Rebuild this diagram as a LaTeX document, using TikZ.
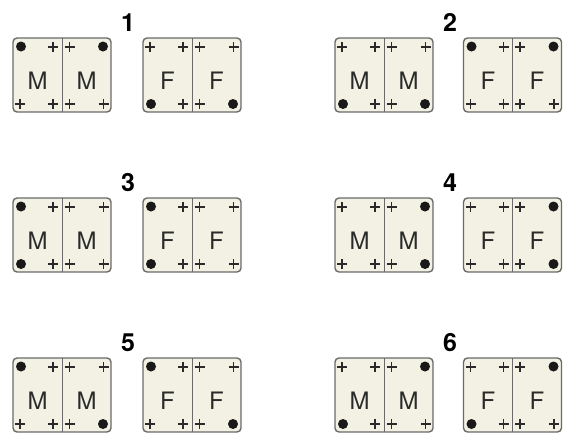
\documentclass[tikz,border=0pt]{standalone}
\usepackage{fontspec}
\setmainfont{TeX Gyre Heros}
\definecolor{cardfill}{HTML}{F3F1E3}
\definecolor{cardedge}{HTML}{6A6A6A}
\definecolor{ink}{HTML}{2A2A2A}
\tikzset{
  cardbox/.style={draw=cardedge, fill=cardfill, line width=1.4pt, rounded corners=4pt},
  divider/.style={draw=cardedge, line width=1pt},
  lettr/.style={anchor=base, text=ink, font=\fontsize{24}{24}\selectfont, inner sep=0pt},
  numlabel/.style={anchor=base, text=black, font=\fontsize{25}{25}\selectfont\bfseries, inner sep=0pt},
  pluss/.style={draw=ink, line width=1.1pt},
  dott/.style={fill=black!90},
}
\newcommand\plusmark[2]{\draw[pluss] (#1-5,#2) -- (#1+5,#2) (#1,#2-5) -- (#1,#2+5);}
% card: #1 x, #2 y (top-left), #3 letter, #4 TL, #5 BL, #6 TR, #7 BR
\newcommand\card[7]{%
  \begin{scope}[shift={(#1,#2)}]
    \draw[cardbox] (0,0) rectangle (98,74);
    \draw[divider] (49,0) -- (49,74);
    \node[lettr] at (24.5,51) {#3};
    \node[lettr] at (73.5,51) {#3};
    \ifnum#4=1 \fill[dott] (8,8.5) circle (5);\else\plusmark{7}{9}\fi
    \ifnum#5=1 \fill[dott] (8,66) circle (5);\else\plusmark{7}{66}\fi
    \plusmark{40}{9}
    \plusmark{40}{66}
    \plusmark{56.5}{9}
    \plusmark{56.5}{66}
    \ifnum#6=1 \fill[dott] (90,8.5) circle (5);\else\plusmark{90.5}{9}\fi
    \ifnum#7=1 \fill[dott] (90,66) circle (5);\else\plusmark{90.5}{66}\fi
  \end{scope}}
\begin{document}
\begin{tikzpicture}[x=1pt,y=-1pt]
\useasboundingbox (0,0) rectangle (566,434);
\node[numlabel] (n1) at (128,31.5) {1};
\card{13}{38}{M}{1}{0}{1}{0}
\card{143}{38}{F}{0}{1}{0}{1}
\node[numlabel] (n2) at (450,31.5) {2};
\card{335}{38}{M}{0}{1}{0}{1}
\card{463.5}{38}{F}{1}{0}{1}{0}
\node[numlabel] (n3) at (128,191.5) {3};
\card{13}{198}{M}{1}{1}{0}{0}
\card{143}{198}{F}{1}{1}{0}{0}
\node[numlabel] (n4) at (450,191.5) {4};
\card{335}{198}{M}{0}{0}{1}{1}
\card{463.5}{198}{F}{0}{0}{1}{1}
\node[numlabel] (n5) at (128,351.5) {5};
\card{13}{358}{M}{1}{0}{0}{1}
\card{143}{358}{F}{1}{0}{0}{1}
\node[numlabel] (n6) at (450,351.5) {6};
\card{335}{358}{M}{0}{1}{1}{0}
\card{463.5}{358}{F}{0}{1}{1}{0}
\end{tikzpicture}
\end{document}
